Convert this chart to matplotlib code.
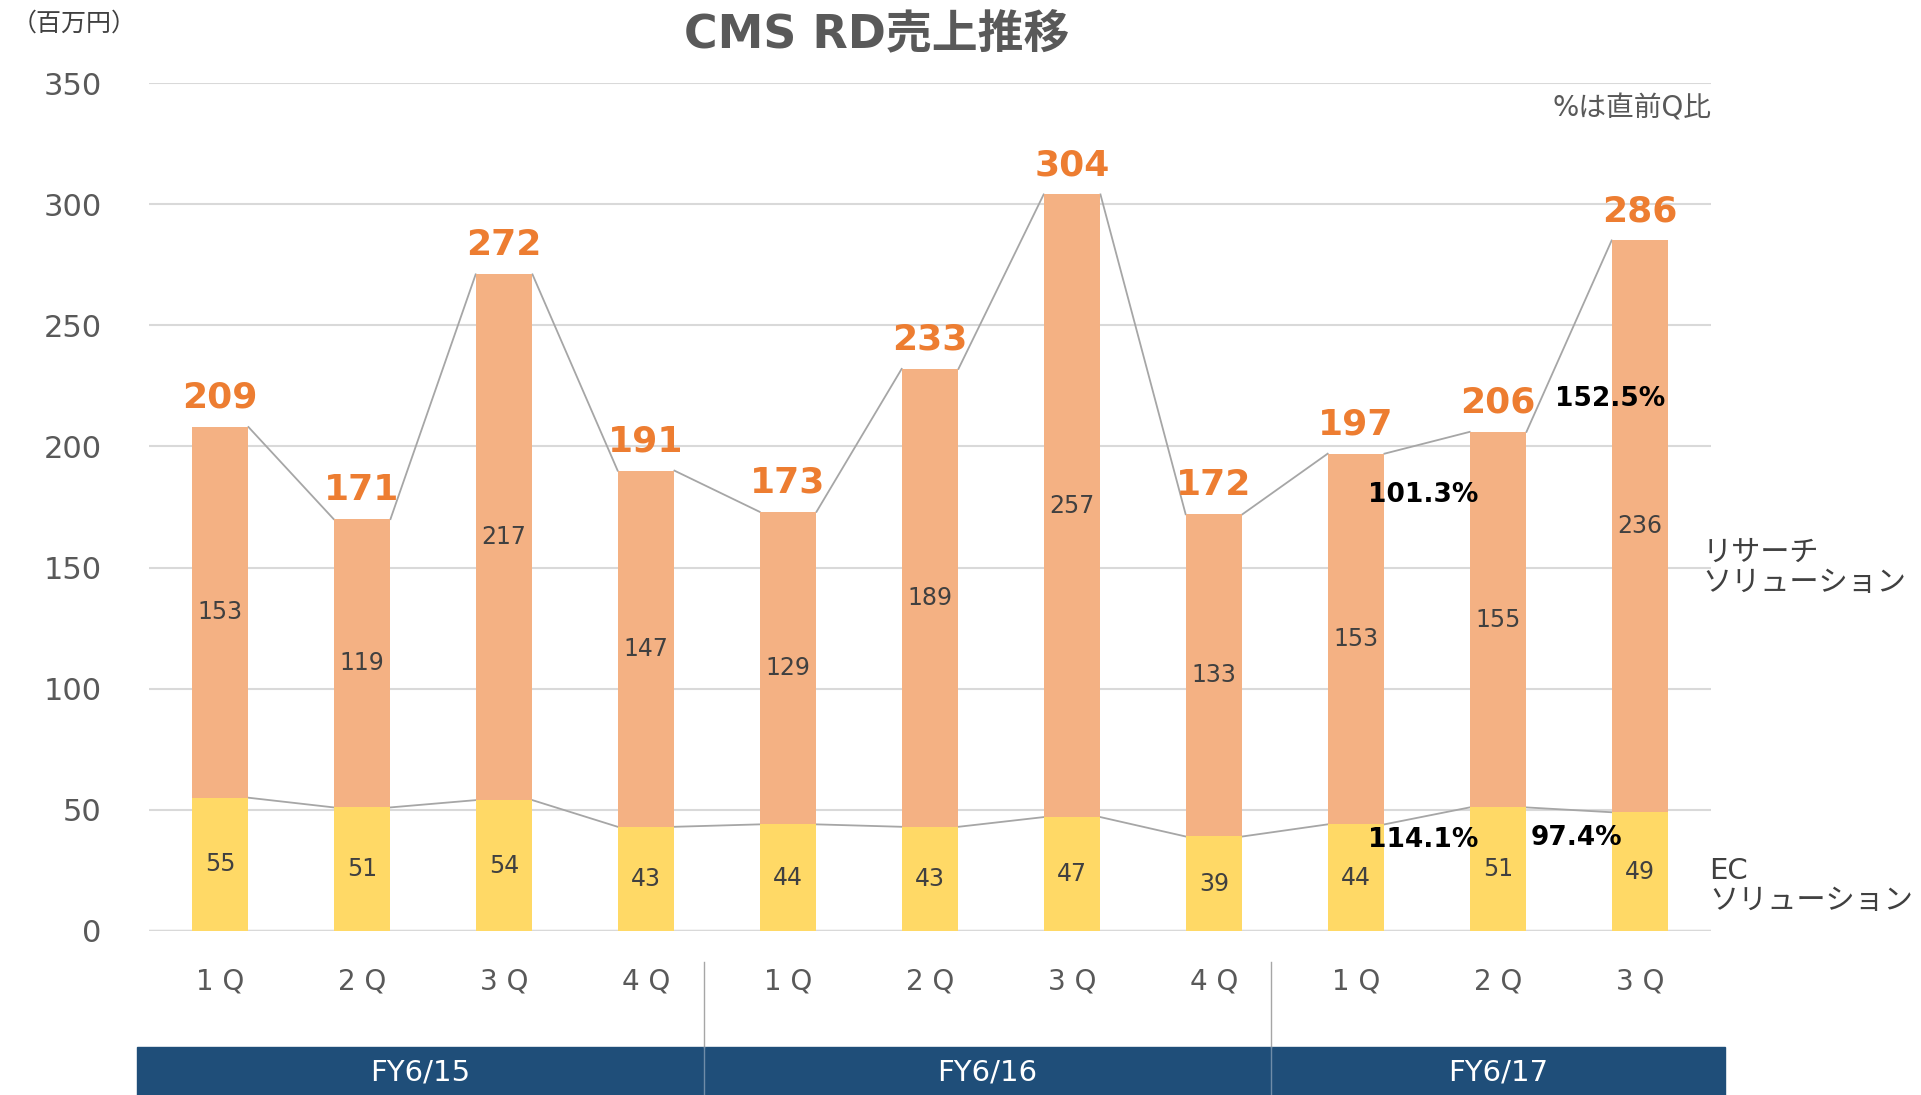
import matplotlib
matplotlib.use("Agg")
import matplotlib.pyplot as plt
import numpy as np
from matplotlib.patches import Rectangle

plt.rcParams['font.family'] = ['DejaVu Sans', 'Noto Sans CJK JP']

# data (million yen)
quarters = ["1 Q", "2 Q", "3 Q", "4 Q", "1 Q", "2 Q", "3 Q", "4 Q", "1 Q", "2 Q", "3 Q"]
ec_sales = [55, 51, 54, 43, 44, 43, 47, 39, 44, 51, 49]
research_sales = [153, 119, 217, 147, 129, 189, 257, 133, 153, 155, 236]
total_labels = [209, 171, 272, 191, 173, 233, 304, 172, 197, 206, 286]
fiscal_years = ["FY6/15", "FY6/16", "FY6/17"]
research_pct = ["101.3%", "152.5%"]
ec_pct = ["114.1%", "97.4%"]

C_RESEARCH = "#F4B183"
C_EC = "#FFD966"
C_TOTAL = "#ED7D31"
C_GRAY = "#595959"
C_LINE = "#A6A6A6"
C_BAND = "#1F4E79"

fig = plt.figure(figsize=(19.21, 10.95), dpi=100)
ax = fig.add_axes([0.0776, 0.1498, 0.8131, 0.7744])

x = np.arange(len(quarters))
w = 0.40
ec = np.array(ec_sales)
rs = np.array(research_sales)
top = ec + rs

ax.bar(x, ec, w, color=C_EC, zorder=3)
ax.bar(x, rs, w, bottom=ec, color=C_RESEARCH, zorder=3)

# series lines between bars
for i in range(len(x) - 1):
  ax.plot([x[i] + w/2, x[i+1] - w/2], [top[i], top[i+1]], color=C_LINE, lw=1.3, zorder=2)
  ax.plot([x[i] + w/2, x[i+1] - w/2], [ec[i], ec[i+1]], color=C_LINE, lw=1.3, zorder=2)

for i in range(len(x)):
  ax.text(x[i], ec[i]/2, str(ec[i]), ha='center', va='center', fontsize=17, color="#404040", zorder=4)
  ax.text(x[i], ec[i] + rs[i]/2, str(rs[i]), ha='center', va='center', fontsize=17, color="#404040", zorder=4)
  ax.annotate(str(total_labels[i]), (x[i], top[i]), xytext=(0, 14), textcoords='offset points',
              ha='center', va='baseline', fontsize=26, fontweight='bold', color=C_TOTAL, zorder=4)

# quarter-on-quarter ratios
ax.text(8.47, 180, research_pct[0], ha='center', va='center', fontsize=19, fontweight='bold', color='black', zorder=5)
ax.text(9.79, 219.5, research_pct[1], ha='center', va='center', fontsize=19, fontweight='bold', color='black', zorder=5)
ax.text(8.47, 37.4, ec_pct[0], ha='center', va='center', fontsize=19, fontweight='bold', color='black', zorder=5)
ax.text(9.55, 38.4, ec_pct[1], ha='center', va='center', fontsize=19, fontweight='bold', color='black', zorder=5)

ax.set_xlim(-0.5, 10.5)
ax.set_ylim(0, 350)
ax.set_yticks(np.arange(0, 351, 50))
ax.yaxis.grid(True, color="#D9D9D9", lw=1.5, zorder=0)
ax.set_axisbelow(True)
for s in ax.spines.values():
  s.set_visible(False)
ax.axhline(0, color="#D9D9D9", lw=2.5, zorder=1)
ax.tick_params(axis='y', length=0, pad=34, labelsize=22, labelcolor=C_GRAY)
ax.set_xticks(x)
ax.set_xticklabels(quarters)
ax.tick_params(axis='x', length=0, pad=26, labelsize=20, labelcolor=C_GRAY)

# fiscal year band
band_edges = [-0.586, 3.41, 7.40, 10.60]
ax.add_patch(Rectangle((band_edges[0], -70), band_edges[-1] - band_edges[0], 22,
                       color=C_BAND, clip_on=False, zorder=1))
for j, fy in enumerate(fiscal_years):
  ax.text((band_edges[j] + band_edges[j+1]) / 2, -58.3, fy, ha='center', va='center',
          fontsize=21, color='white', clip_on=False)
for xd in band_edges[1:-1]:
  ax.plot([xd, xd], [-12.8, -48], color=C_LINE, lw=1, clip_on=False)
  ax.plot([xd, xd], [-48, -70], color="#6F8CA8", lw=1, clip_on=False)

# series names on the right
ax.text(10.44, 150, "リサーチ\nソリューション", ha='left', va='center', fontsize=21,
        color="#404040", linespacing=1.1, clip_on=False)
ax.text(10.49, 18.7, "EC\nソリューション", ha='left', va='center', fontsize=21,
        color="#404040", linespacing=1.1, clip_on=False)

fig.text(0.4565, 0.967, "CMS RD売上推移", ha='center', va='center', fontsize=33,
         fontweight='bold', color=C_GRAY)
fig.text(0.006, 0.978, "（百万円）", ha='left', va='center', fontsize=18, color="#404040")
ax.text(1.0, 0.97, "%は直前Q比", transform=ax.transAxes, ha='right', va='center',
        fontsize=20, color=C_GRAY)

fig.savefig("out.png", dpi=100)
